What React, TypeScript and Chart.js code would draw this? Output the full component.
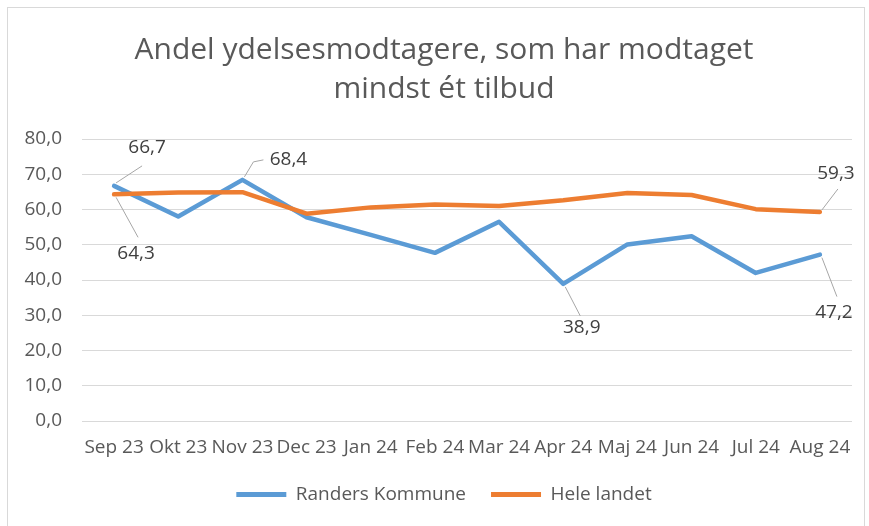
import { useEffect, useRef } from "react";
import { Chart, registerables } from "chart.js";

Chart.register(...registerables);

const titleLines = ["Andel ydelsesmodtagere, som har modtaget", "mindst ét tilbud"];
const categories = ["Sep 23", "Okt 23", "Nov 23", "Dec 23", "Jan 24", "Feb 24", "Mar 24", "Apr 24", "Maj 24", "Jun 24", "Jul 24", "Aug 24"];
const seriesNames = ["Randers Kommune", "Hele landet"];
const randersValues = [66.7, 58.0, 68.4, 57.8, 52.8, 47.7, 56.5, 38.9, 50.1, 52.4, 42.0, 47.2];
const heleLandetValues = [64.3, 64.8, 64.9, 58.8, 60.6, 61.4, 61.0, 62.6, 64.7, 64.1, 60.1, 59.3];
const yMin = 0;
const yMax = 80;
const yStep = 10;

const fmt = (v: number) => v.toFixed(1).replace(".", ",");

const leaderLabelPlugin = {
  id: "leaderLabels",
  afterDatasetsDraw(chart: any, _args: any, opts: any) {
    const ctx = chart.ctx;
    ctx.save();
    ctx.font = `${opts.size}px ${opts.family}`;
    ctx.textAlign = "center";
    ctx.textBaseline = "middle";
    for (const it of opts.items) {
      const meta = chart.getDatasetMeta(it.dataset);
      const pt = meta.data[it.index];
      if (!pt) continue;
      const v = chart.data.datasets[it.dataset].data[it.index] as number;
      ctx.beginPath();
      ctx.strokeStyle = opts.leaderColor;
      ctx.lineWidth = 1;
      it.leader.forEach((p: number[], k: number) => {
        if (k === 0) ctx.moveTo(pt.x + p[0], pt.y + p[1]);
        else ctx.lineTo(pt.x + p[0], pt.y + p[1]);
      });
      ctx.stroke();
      ctx.fillStyle = opts.color;
      ctx.fillText(fmt(v), pt.x + it.dx, pt.y + it.dy);
    }
    ctx.restore();
  },
};

export default function App() {
  const ref = useRef<HTMLCanvasElement | null>(null);

  useEffect(() => {
    if (!ref.current) return;
    Chart.defaults.font.family = "'Open Sans', sans-serif";
    const chart = new Chart(ref.current, {
      type: "line",
      data: {
        labels: categories,
        datasets: [
          {
            label: seriesNames[0],
            data: randersValues,
            borderColor: "#5b9bd5",
            backgroundColor: "#5b9bd5",
            borderWidth: 4.5,
            pointRadius: 0,
            pointHoverRadius: 0,
            tension: 0,
            borderJoinStyle: "round",
            borderCapStyle: "round",
            order: 2,
          },
          {
            label: seriesNames[1],
            data: heleLandetValues,
            borderColor: "#ed7d31",
            backgroundColor: "#ed7d31",
            borderWidth: 4.5,
            pointRadius: 0,
            pointHoverRadius: 0,
            tension: 0,
            borderJoinStyle: "round",
            borderCapStyle: "round",
            order: 1,
          },
        ],
      },
      options: {
        responsive: false,
        animation: false,
        layout: { padding: { left: 24, right: 5, top: 0, bottom: 12 } },
        scales: {
          x: {
            offset: true,
            grid: { display: false, drawTicks: false, tickLength: 0 },
            border: { display: false },
            ticks: {
              color: "#595959",
              font: { size: 19 },
              maxRotation: 0,
              minRotation: 0,
              autoSkip: false,
              padding: 15,
            },
            afterFit: (scale: any) => {
              scale.height = 39;
            },
          },
          y: {
            min: yMin,
            max: yMax,
            grid: { color: "#d9d9d9", lineWidth: 1, drawTicks: false },
            border: { display: false },
            ticks: {
              stepSize: yStep,
              color: "#595959",
              font: { size: 19 },
              padding: 20,
              callback: (v: any) => fmt(Number(v)),
            },
            afterFit: (scale: any) => {
              scale.width = 58;
            },
          },
          yRight: {
            position: "right",
            min: yMin,
            max: yMax,
            grid: { display: false },
            border: { display: false },
            ticks: { display: false },
            afterFit: (scale: any) => {
              scale.width = 12;
            },
          },
        },
        plugins: {
          title: {
            display: true,
            text: titleLines,
            color: "#595959",
            font: { size: 30, weight: "normal", lineHeight: 1.3 },
            padding: { top: 31, bottom: 30 },
          },
          legend: {
            position: "bottom",
            labels: {
              boxWidth: 50,
              boxHeight: 5,
              padding: 25,
              color: "#595959",
              font: { size: 19 },
              generateLabels: (c: any) =>
                c.data.datasets.map((ds: any, i: number) => ({
                  text: ds.label,
                  fillStyle: ds.borderColor,
                  strokeStyle: ds.borderColor,
                  lineWidth: 0,
                  hidden: !c.isDatasetVisible(i),
                  datasetIndex: i,
                  fontColor: "#595959",
                })),
            },
          },
          tooltip: { enabled: false },
          leaderLabels: {
            size: 19,
            family: "'Open Sans', sans-serif",
            color: "#404040",
            leaderColor: "#a6a6a6",
            items: [
              { dataset: 0, index: 0, dx: 33, dy: -38, leader: [[2, -3], [28, -20]] },
              { dataset: 1, index: 0, dx: 22, dy: 59, leader: [[2, 3], [24, 43]] },
              { dataset: 0, index: 2, dx: 46, dy: -20, leader: [[2, -3], [11, -18], [21, -20]] },
              { dataset: 0, index: 7, dx: 18.5, dy: 43.5, leader: [[2, 3], [17, 32]] },
              { dataset: 0, index: 11, dx: 14, dy: 58, leader: [[2, 3], [17, 42]] },
              { dataset: 1, index: 11, dx: 16, dy: -38, leader: [[2, -2], [18, -23]] },
            ],
          },
        } as any,
      },
      plugins: [leaderLabelPlugin],
    });
    return () => chart.destroy();
  }, []);

  return (
    <div style={{ position: "fixed", left: 0, top: 0, width: 869, height: 526, overflow: "hidden", background: "#fff" }}>
      <div
        style={{
          position: "absolute",
          left: 7,
          top: 7,
          width: 858,
          height: 540,
          border: "1px solid #d9d9d9",
          boxSizing: "border-box",
        }}
      />
      <canvas ref={ref} width={869} height={526} style={{ position: "absolute", left: 0, top: 0, width: 869, height: 526 }} />
    </div>
  );
}
